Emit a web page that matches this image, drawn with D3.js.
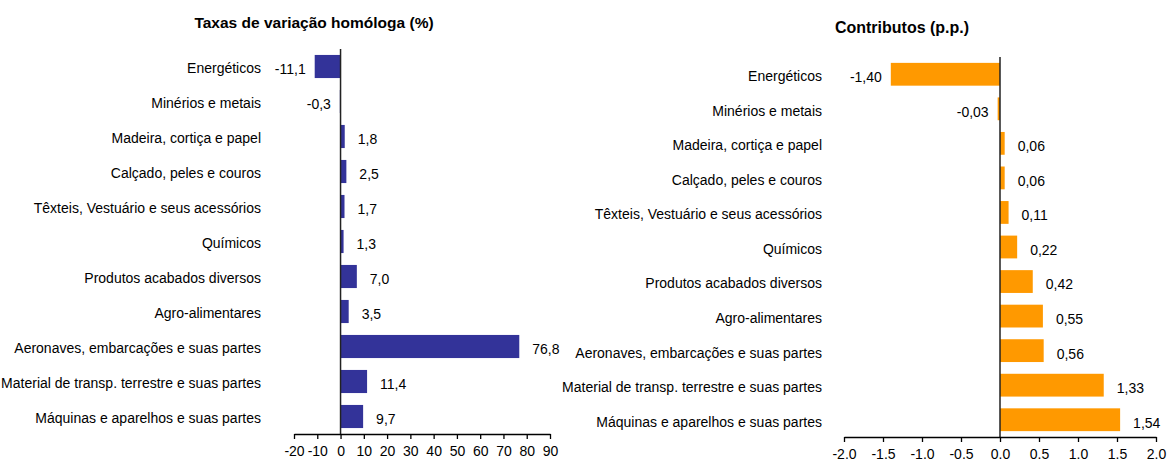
<!DOCTYPE html>
<html>
<head>
<meta charset="utf-8">
<script src="https://cdn.jsdelivr.net/npm/d3@7"></script>
<style>
  html, body { margin: 0; background: #fff; }
  text { font-family: "Liberation Sans Narrow", "Arial Narrow", "Liberation Sans", Arial, sans-serif; fill: #000; }
</style>
</head>
<body>
<script>
const categories = [
  'Energéticos',
  'Minérios e metais',
  'Madeira, cortiça e papel',
  'Calçado, peles e couros',
  'Têxteis, Vestuário e seus acessórios',
  'Químicos',
  'Produtos acabados diversos',
  'Agro-alimentares',
  'Aeronaves, embarcações e suas partes',
  'Material de transp. terrestre e suas partes',
  'Máquinas e aparelhos e suas partes'
];
const rates = [-11.1, -0.3, 1.8, 2.5, 1.7, 1.3, 7.0, 3.5, 76.8, 11.4, 9.7];
const contribs = [-1.40, -0.03, 0.06, 0.06, 0.11, 0.22, 0.42, 0.55, 0.56, 1.33, 1.54];

const rateTicks = [-20, -10, 0, 10, 20, 30, 40, 50, 60, 70, 80, 90];
const contribTicks = [-2.0, -1.5, -1.0, -0.5, 0.0, 0.5, 1.0, 1.5, 2.0];

// labels use a comma decimal, axis ticks a point; both with a plain hyphen
const pt = d3.formatLocale({ decimal: ',', thousands: '.', grouping: [3], currency: ['', '€'], minus: '-' });
const en = d3.formatLocale({ decimal: '.', thousands: ',', grouping: [3], currency: ['', ''], minus: '-' });

const width = 1167;
const height = 461;

const svg = d3.select('body')
  .append('svg')
  .attr('width', width)
  .attr('height', height);

function chart(opts) {
  const { values, ticks, domain, xRange, yRange, color, title, titleX, titleY, titleSize, labelX, fmt, tickFmt } = opts;

  const x = d3.scaleLinear().domain(domain).range(xRange);
  const y = d3.scaleBand().domain(categories).range(yRange)
    .paddingInner(0.34).paddingOuter(0.17);

  const g = svg.append('g');

  g.append('text')
    .attr('x', titleX)
    .attr('y', titleY)
    .attr('text-anchor', 'middle')
    .style('font-weight', 'bold')
    .style('font-size', titleSize)
    .text(title);

  // bars
  g.selectAll('rect.bar')
    .data(values)
    .join('rect')
    .attr('class', 'bar')
    .attr('x', d => x(Math.min(0, d)))
    .attr('y', (d, i) => y(categories[i]))
    .attr('width', d => Math.max(1, Math.abs(x(d) - x(0))))
    .attr('height', y.bandwidth())
    .attr('fill', color);

  // value labels
  g.selectAll('text.val')
    .data(values)
    .join('text')
    .attr('class', 'val')
    .attr('x', d => d < 0 ? x(d) - 9 : x(d) + 13)
    .attr('y', (d, i) => y(categories[i]) + y.bandwidth() / 2 + 3)
    .attr('dy', '0.35em')
    .attr('text-anchor', d => d < 0 ? 'end' : 'start')
    .style('font-size', '14px')
    .text(d => fmt(d));

  // category labels
  g.selectAll('text.cat')
    .data(categories)
    .join('text')
    .attr('class', 'cat')
    .attr('x', labelX)
    .attr('y', d => y(d) + y.bandwidth() / 2 + 2)
    .attr('dy', '0.35em')
    .attr('text-anchor', 'end')
    .style('font-size', '14px')
    .text(d => d);

  // zero line
  g.append('line')
    .attr('x1', x(0)).attr('x2', x(0))
    .attr('y1', yRange[0]).attr('y2', yRange[1])
    .attr('stroke', '#222')
    .attr('stroke-width', 1.5);

  // x axis
  const axis = g.append('g')
    .attr('transform', `translate(0,${yRange[1]})`)
    .call(d3.axisBottom(x).tickValues(ticks).tickSize(5).tickSizeOuter(0).tickPadding(7).tickFormat(tickFmt));
  axis.select('.domain').attr('stroke', '#000').attr('stroke-width', 1.3);
  axis.selectAll('.tick line').attr('stroke', '#000').attr('stroke-width', 1.3);
  axis.selectAll('.tick text')
    .style('font-size', '14px')
    .style('font-family', '"Liberation Sans Narrow", "Arial Narrow", "Liberation Sans", Arial, sans-serif')
    .attr('fill', '#000');
}

chart({
  values: rates,
  ticks: rateTicks,
  domain: [-20, 90],
  xRange: [294, 550],
  yRange: [49, 434],
  color: '#333399',
  title: 'Taxas de variação homóloga (%)',
  titleX: 314,
  titleY: 28,
  titleSize: '15.5px',
  labelX: 261,
  fmt: pt.format('.1f'),
  tickFmt: en.format('d')
});

chart({
  values: contribs,
  ticks: contribTicks,
  domain: [-2, 2],
  xRange: [844, 1156],
  yRange: [57, 437],
  color: '#FF9900',
  title: 'Contributos (p.p.)',
  titleX: 902,
  titleY: 33,
  titleSize: '16px',
  labelX: 822,
  fmt: pt.format('.2f'),
  tickFmt: en.format('.1f')
});
</script>
</body>
</html>
